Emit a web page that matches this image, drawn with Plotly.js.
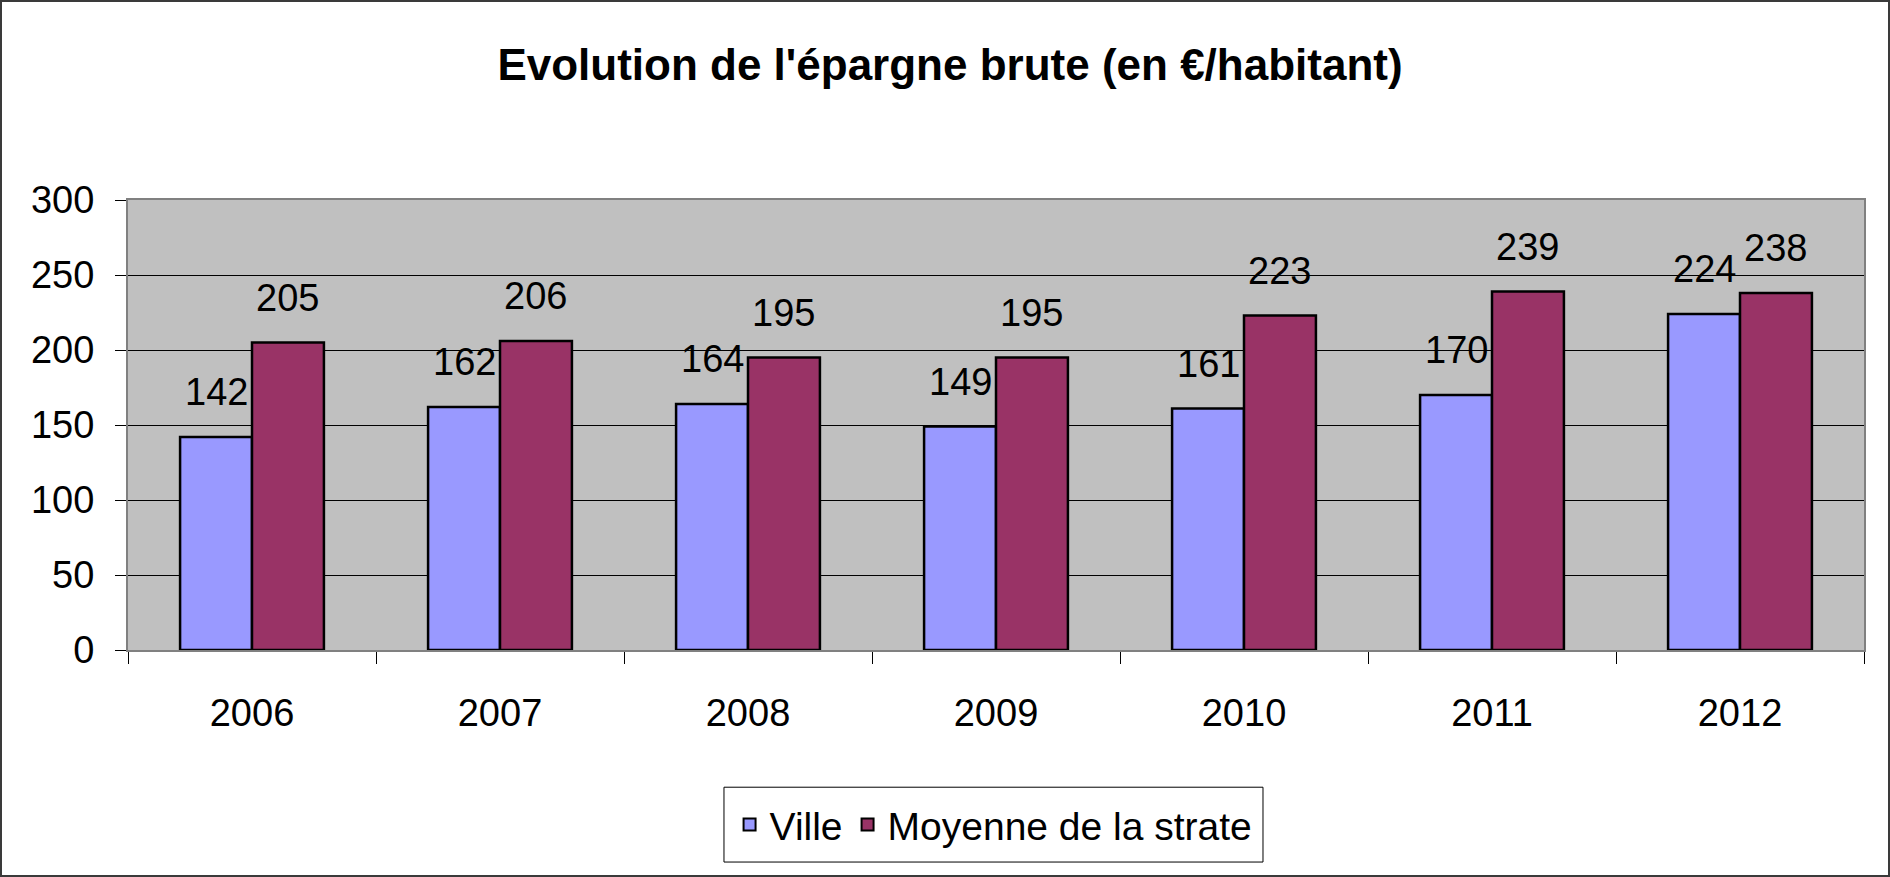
<!DOCTYPE html>
<html>
<head>
<meta charset="utf-8">
<script src="https://cdn.plot.ly/plotly-3.0.1.min.js"></script>
<style>
  html, body { margin: 0; padding: 0; background: #fff; }
  #wrap { width: 1886px; height: 873px; border: 2px solid #3a3a3a; }
  #chart { width: 1886px; height: 873px; }
</style>
</head>
<body>
<div id="wrap"><div id="chart"></div></div>
<script>
const years = ['2006', '2007', '2008', '2009', '2010', '2011', '2012'];
const ville = [142, 162, 164, 149, 161, 170, 224];
const moyenne = [205, 206, 195, 195, 223, 239, 238];
const seriesNames = ['Ville', 'Moyenne de la strate'];
const yTicks = [0, 50, 100, 150, 200, 250, 300];

const FONT = 'Liberation Sans, Arial, sans-serif';
const bargap = 0.42;
const off = (1 - bargap) / 4;

const traces = [
  {
    type: 'bar', name: seriesNames[0], x: years, y: ville,
    marker: { color: '#9999FF', line: { color: '#000000', width: 2.5 } },
    hoverinfo: 'none'
  },
  {
    type: 'bar', name: seriesNames[1], x: years, y: moyenne,
    marker: { color: '#993366', line: { color: '#000000', width: 2.5 } },
    hoverinfo: 'none'
  }
];

const annotations = [];
[ville, moyenne].forEach((vals, s) => {
  vals.forEach((v, i) => {
    annotations.push({
      xref: 'x', yref: 'y',
      x: i + (s === 0 ? -off : off), y: v,
      text: String(v), showarrow: false,
      xanchor: 'center', yanchor: 'bottom', yshift: 22,
      font: { family: FONT, size: 38, color: '#000' }
    });
  });
});

const layout = {
  width: 1886, height: 873,
  margin: { l: 126, r: 24, t: 197.5, b: 224.5 },
  paper_bgcolor: '#ffffff',
  plot_bgcolor: '#C0C0C0',
  barmode: 'group', bargap: bargap, bargroupgap: 0,
  showlegend: true,
  title: {
    text: "<b>Evolution de l'épargne brute (en €/habitant)</b>",
    font: { family: FONT, size: 44, color: '#000' },
    xref: 'container', yref: 'container',
    x: 948 / 1886, y: 1 - 63 / 873, xanchor: 'center', yanchor: 'middle'
  },
  xaxis: {
    type: 'category',
    tickson: 'boundaries',
    ticks: 'outside', ticklen: 12, tickcolor: '#000', tickwidth: 1,
    showline: true, linecolor: '#808080', linewidth: 2, mirror: true,
    showgrid: false,
    tickfont: { family: FONT, size: 38, color: '#000' },
    ticklabelstandoff: 28,
    fixedrange: true
  },
  yaxis: {
    range: [0, 300],
    tickvals: yTicks,
    ticktext: yTicks.map(String),
    ticks: 'outside', ticklen: 11, tickcolor: '#000', tickwidth: 1,
    showline: true, linecolor: '#808080', linewidth: 2, mirror: true,
    showgrid: true, gridcolor: '#000000', gridwidth: 1,
    zeroline: false,
    tickfont: { family: FONT, size: 38, color: '#000' },
    ticklabelstandoff: 13,
    fixedrange: true
  },
  legend: {
    orientation: 'h',
    x: 0.4986, xanchor: 'center',
    y: -0.388, yanchor: 'middle',
    bgcolor: 'rgba(0,0,0,0)', borderwidth: 0,
    font: { family: FONT, size: 39, color: '#000' },
    itemsizing: 'constant'
  },
  shapes: [{
    type: 'rect', xref: 'paper', yref: 'paper',
    x0: 0.3433, x1: 0.6538, y0: -0.4712, y1: -0.3049,
    line: { color: '#000000', width: 1 }, fillcolor: '#ffffff', layer: 'below'
  }],
  annotations: annotations
};

Plotly.newPlot('chart', traces, layout, { displayModeBar: false, staticPlot: true });
</script>
</body>
</html>
